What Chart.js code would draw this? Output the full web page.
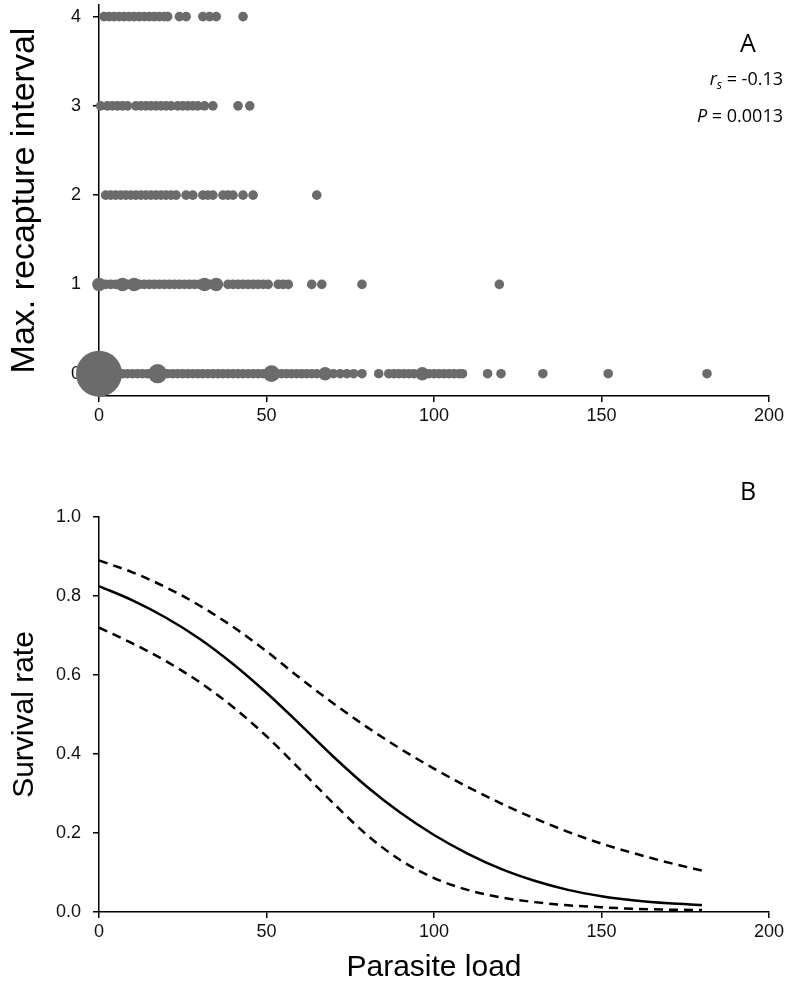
<!DOCTYPE html>
<html>
<head>
<meta charset="utf-8">
<script src="https://cdn.jsdelivr.net/npm/chart.js@4.4.1/dist/chart.umd.min.js"></script>
<style>
  html, body { margin: 0; padding: 0; background: #fff; }
  #chartA { position: absolute; left: 0; top: 0; }
  #chartB { position: absolute; left: 0; top: 450px; }
</style>
</head>
<body>
<canvas id="chartA" width="797" height="440"></canvas>
<canvas id="chartB" width="797" height="551"></canvas>
<script>
// Panel A: parasite load of each recaptured individual, by max. recapture interval
const recaptureLevels = [0, 1, 2, 3, 4];
const loadsAt0 = [0, 3, 5, 7, 8.5, 10, 11.5, 13, 14.5, 16, 17.5, 19, 20.5, 22, 23.5, 25, 26.5, 28, 29.5, 31, 32.5,
  34, 35.5, 37, 38.5, 40, 41.5, 43, 44.5, 46, 47.5, 49, 51.5, 53, 54.5, 56, 57.5, 59, 60.5, 62, 63.5, 65, 67.5,
  70, 72, 74, 76, 78.5, 83.5, 86.5, 88, 89.5, 91, 92.5, 94, 96.5, 98.5, 100, 101.5, 103, 104.5, 106, 107.5, 108.5,
  116, 120, 132.5, 152, 181.5];
const loadsAt1 = [0, 2, 3.5, 5, 7, 8.5, 10.5, 12, 13.5, 15, 16.5, 18, 19.5, 21, 22.5, 24, 25.5, 27, 28.5, 30, 31.5,
  33, 35, 38.5, 40, 41.5, 43, 44.5, 46, 47.5, 49, 50.5, 53.5, 55, 56.5, 63.5, 66.5, 78.5, 119.5];
const loadsAt2 = [2, 3.5, 5, 6.5, 8, 9.5, 11, 12.5, 14, 15.5, 17, 18.5, 20, 21.5, 23, 26, 28, 31, 32.5, 34, 37,
  38.5, 40, 43, 46, 65];
const loadsAt3 = [0.5, 2.5, 4, 5.5, 7, 8.5, 11, 12.5, 14, 15.5, 17, 18.5, 20, 21.5, 23.5, 25, 26.5, 28, 29.5,
  31.5, 34, 41.5, 45];
const loadsAt4 = [1.5, 3, 4.5, 6, 7.5, 9, 10.5, 12, 13.5, 15, 16.5, 18, 19.5, 20.5, 24, 26, 31, 33, 35, 43];
// number of overlapping individuals where a dot is larger (load -> count), others are 1
const countsAt0 = { 0: 23, 5: 2, 17.5: 4, 51.5: 3, 67.5: 2, 96.5: 2 };
const countsAt1 = { 0: 2, 7: 2, 10.5: 2, 31.5: 2, 35: 2 };

// Panel B: fitted survival rate with 95% confidence limits
const loadGrid = [0, 10, 20, 30, 40, 50, 60, 70, 80, 90, 100, 110, 120, 130, 140, 150, 160, 170, 180];
const survivalFit = [0.825, 0.789, 0.745, 0.692, 0.628, 0.555, 0.475, 0.393, 0.317, 0.251, 0.195, 0.148, 0.109,
  0.079, 0.056, 0.04, 0.029, 0.022, 0.018];
const survivalUpper = [0.89, 0.86, 0.822, 0.776, 0.722, 0.66, 0.592, 0.528, 0.468, 0.413, 0.363, 0.317, 0.275,
  0.237, 0.203, 0.173, 0.148, 0.125, 0.105];
const survivalLower = [0.72, 0.68, 0.635, 0.582, 0.519, 0.445, 0.361, 0.275, 0.195, 0.131, 0.086, 0.056, 0.037,
  0.025, 0.017, 0.012, 0.008, 0.006, 0.005];

const xTicks = [0, 50, 100, 150, 200];

const tickFont = { family: '"Liberation Sans", Arial, sans-serif', size: 18 };
const dotColor = '#6b6b6b';

function axisStyle() {
  return {
    grid: { display: true, drawOnChartArea: false, drawTicks: true, tickLength: 6, color: '#000', lineWidth: 1.5 },
    border: { display: true, color: '#000', width: 1.5 }
  };
}

function fixHeight(h) {
  return s => { s.height = h; s.paddingLeft = 0; s.paddingRight = 0; };
}
function fixWidth(w) {
  return s => { s.width = w; s.paddingTop = 0; s.paddingBottom = 0; };
}

// Free text drawn in the top right corner of each panel
const panelText = {
  id: 'panelText',
  afterDraw(chart, args, opts) {
    const ctx = chart.ctx;
    ctx.save();
    ctx.fillStyle = '#000';
    ctx.textBaseline = 'middle';
    ctx.font = '25px "Open Sans", sans-serif';
    ctx.textAlign = 'center';
    ctx.fillText(opts.letter, 748, opts.letterY);
    if (opts.stats) {
      const right = 783;
      ctx.textAlign = 'left';
      // r_s = -0.13
      const rest = ' = -0.13';
      ctx.font = '18px "Open Sans", sans-serif';
      const wRest = ctx.measureText(rest).width;
      ctx.font = 'italic 12px "Open Sans", sans-serif';
      const wSub = ctx.measureText('s').width;
      ctx.font = 'italic 18px "Open Sans", sans-serif';
      const wR = ctx.measureText('r').width;
      let x = right - wRest - wSub - wR;
      ctx.fillText('r', x, 80);
      ctx.font = 'italic 12px "Open Sans", sans-serif';
      ctx.fillText('s', x + wR, 86);
      ctx.font = '18px "Open Sans", sans-serif';
      ctx.fillText(rest, x + wR + wSub, 80);
      // P = 0.0013
      const rest2 = ' = 0.0013';
      const wRest2 = ctx.measureText(rest2).width;
      ctx.font = 'italic 18px "Open Sans", sans-serif';
      const wP = ctx.measureText('P').width;
      x = right - wRest2 - wP;
      ctx.fillText('P', x, 117);
      ctx.font = '18px "Open Sans", sans-serif';
      ctx.fillText(rest2, x + wP, 117);
    }
    ctx.restore();
  }
};

function rowPoints(loads, level, counts) {
  return loads.map(v => ({ x: v, y: level, n: (counts && counts[v]) || 1 }));
}

// top row first so the large bubble does not drive the automatic padding
const scatterData = [
  ...rowPoints(loadsAt4, recaptureLevels[4]),
  ...rowPoints(loadsAt3, recaptureLevels[3]),
  ...rowPoints(loadsAt2, recaptureLevels[2]),
  ...rowPoints(loadsAt1, recaptureLevels[1], countsAt1),
  ...rowPoints(loadsAt0, recaptureLevels[0], countsAt0)
];

new Chart(document.getElementById('chartA'), {
  type: 'scatter',
  data: {
    datasets: [{
      data: scatterData,
      backgroundColor: dotColor,
      borderWidth: 0,
      pointRadius: ctx => 4.8 * Math.sqrt(ctx.raw ? ctx.raw.n : 1),
      clip: false
    }]
  },
  options: {
    responsive: false,
    animation: false,
    devicePixelRatio: 1,
    layout: { autoPadding: false, padding: { top: 5, right: 28, left: 0, bottom: 0 } },
    plugins: {
      legend: { display: false },
      tooltip: { enabled: false },
      panelText: { letter: 'A', letterY: 45, stats: true }
    },
    scales: {
      x: {
        type: 'linear', min: 0, max: 200, z: 1,
        ...axisStyle(),
        afterBuildTicks: s => { s.ticks = xTicks.map(v => ({ value: v })); },
        afterFit: fixHeight(44),
        ticks: { font: tickFont, color: '#111', padding: 3, maxRotation: 0 }
      },
      y: {
        type: 'linear', min: -0.25, max: 4.13, z: 1,
        ...axisStyle(),
        afterBuildTicks: s => { s.ticks = recaptureLevels.map(v => ({ value: v })); },
        afterFit: fixWidth(99),
        ticks: { font: tickFont, color: '#111', padding: 12 },
        title: {
          display: true, text: 'Max. recapture interval', color: '#000',
          font: { family: '"Liberation Sans", Arial, sans-serif', size: 34 },
          padding: { top: 4, bottom: 0 }
        }
      }
    }
  },
  plugins: [panelText]
});

const toXY = arr => loadGrid.map((x, i) => ({ x: x, y: arr[i] }));
const curveStyle = { borderColor: '#000', borderWidth: 2.5, pointRadius: 0, cubicInterpolationMode: 'monotone', fill: false };

new Chart(document.getElementById('chartB'), {
  type: 'line',
  data: {
    datasets: [
      { data: toXY(survivalUpper), ...curveStyle, borderDash: [9, 6] },
      { data: toXY(survivalFit), ...curveStyle },
      { data: toXY(survivalLower), ...curveStyle, borderDash: [9, 6] }
    ]
  },
  options: {
    responsive: false,
    animation: false,
    devicePixelRatio: 1,
    layout: { autoPadding: false, padding: { top: 67, right: 28, left: 0, bottom: 0 } },
    plugins: {
      legend: { display: false },
      tooltip: { enabled: false },
      panelText: { letter: 'B', letterY: 43, stats: false }
    },
    scales: {
      x: {
        type: 'linear', min: 0, max: 200, z: 1,
        ...axisStyle(),
        afterBuildTicks: s => { s.ticks = xTicks.map(v => ({ value: v })); },
        afterFit: fixHeight(89),
        ticks: { font: tickFont, color: '#111', padding: 3, maxRotation: 0 },
        title: {
          display: true, text: 'Parasite load', color: '#000',
          font: { family: '"Liberation Sans", Arial, sans-serif', size: 30 },
          padding: { top: 0, bottom: 15 }
        }
      },
      y: {
        type: 'linear', min: 0, max: 1, z: 1,
        ...axisStyle(),
        afterFit: fixWidth(99),
        ticks: { font: tickFont, color: '#111', padding: 12, stepSize: 0.2, callback: v => v.toFixed(1) },
        title: {
          display: true, text: 'Survival rate', color: '#000',
          font: { family: '"Liberation Sans", Arial, sans-serif', size: 30 },
          padding: { top: 7, bottom: 0 }
        }
      }
    }
  },
  plugins: [panelText]
});
</script>
</body>
</html>
